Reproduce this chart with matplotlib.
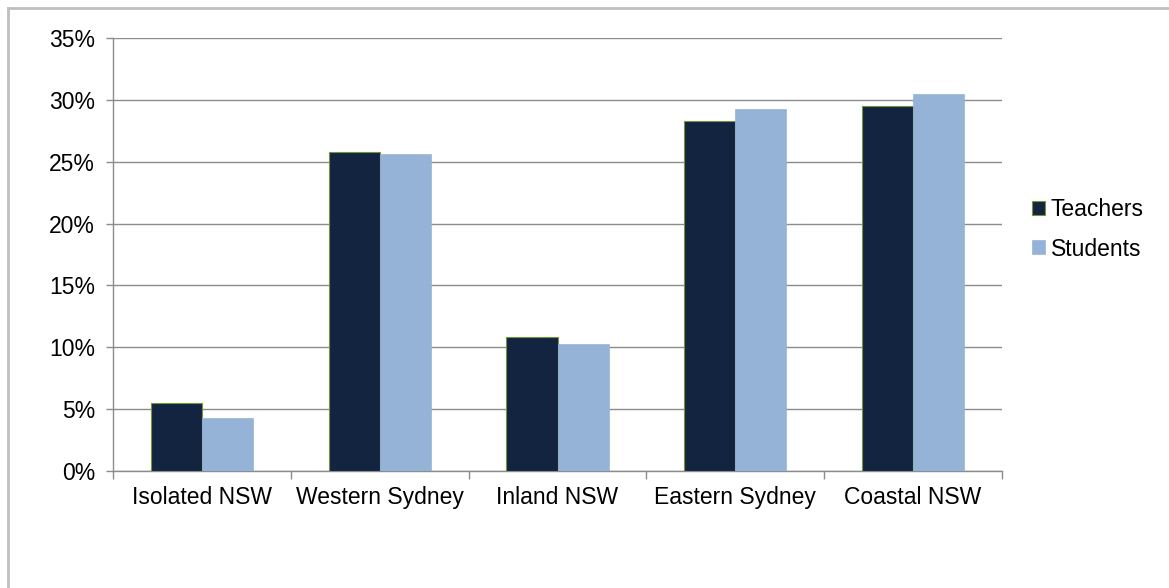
import matplotlib.pyplot as plt
import numpy as np
from matplotlib.ticker import PercentFormatter

plt.rcParams['font.family'] = ['Liberation Sans', 'DejaVu Sans']

regions = ["Isolated NSW", "Western Sydney", "Inland NSW", "Eastern Sydney", "Coastal NSW"]
teachers = [5.5, 25.8, 10.8, 28.3, 29.5]
students = [4.3, 25.6, 10.3, 29.3, 30.5]

fig = plt.figure(figsize=(11.69, 5.88), dpi=100)
fig.patch.set_facecolor('white')

# outer chart frame (top and left edges visible)
fig.add_artist(plt.Line2D([8 / 1169, 1], [1 - 8 / 588, 1 - 8 / 588], color='#BFBFBF', lw=2))
fig.add_artist(plt.Line2D([8 / 1169, 8 / 1169], [0, 1 - 8 / 588], color='#BFBFBF', lw=2))

ax = fig.add_axes([113 / 1169, 1 - 471 / 588, 889 / 1169, 433 / 588])

x = np.arange(len(regions))
width = 0.287
ax.bar(x - width / 2, teachers, width, color='#12243F', edgecolor='#76923C',
       linewidth=0.8, label='Teachers', zorder=3)
ax.bar(x + width / 2, students, width, color='#95B3D7', edgecolor='#95B3D7',
       linewidth=0.5, label='Students', zorder=3)

ax.set_xlim(-0.5, len(regions) - 0.5)
ax.set_ylim(0, 35)
ax.set_yticks(np.arange(0, 36, 5))
ax.yaxis.set_major_formatter(PercentFormatter(decimals=0))
ax.grid(True, axis='y', color='#8C8C8C', linewidth=1, zorder=0)

fs = 16.5
ax.set_xticks(x)
ax.set_xticklabels(regions)
ax.set_xticks(np.arange(-0.5, len(regions), 1), minor=True)
ax.tick_params(axis='x', which='major', length=0, pad=11, labelsize=fs)
ax.tick_params(axis='x', which='minor', length=6, color='#8C8C8C', width=1)
ax.tick_params(axis='y', length=5, color='#8C8C8C', width=1, pad=8, labelsize=fs)

for side in ['top', 'right']:
    ax.spines[side].set_visible(False)
for side in ['left', 'bottom']:
    ax.spines[side].set_color('#8C8C8C')
    ax.spines[side].set_linewidth(1)

leg = fig.legend(loc='upper left', bbox_to_anchor=(1032 / 1169, 1 - 198 / 588),
                 frameon=False, fontsize=fs, handlelength=0.57, handleheight=0.57,
                 handletextpad=0.25, labelspacing=0.72, borderpad=0, borderaxespad=0)

plt.savefig('out.png', dpi=100, facecolor='white')
